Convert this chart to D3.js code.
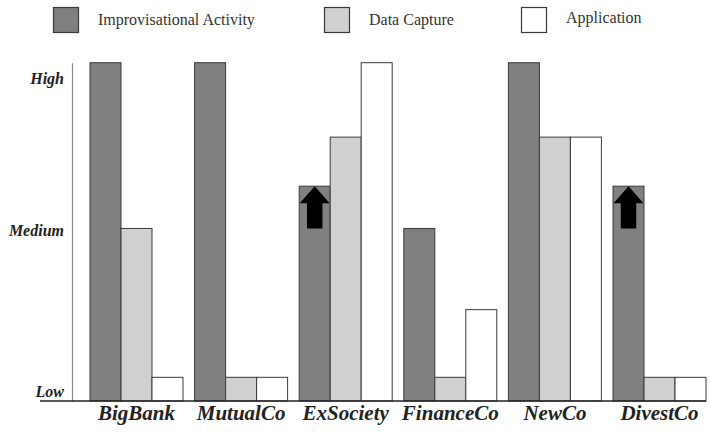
<!DOCTYPE html>
<html>
<head>
<meta charset="utf-8">
<script src="https://cdn.jsdelivr.net/npm/d3@7"></script>
<style>
	html, body { margin: 0; padding: 0; background: #fff; }
	svg { display: block; }
</style>
</head>
<body>
<div id="chart"></div>
<script>
'use strict';

// values, 0 = baseline, 10 = top of the tallest bars
var categories = ['BigBank', 'MutualCo', 'ExSociety', 'FinanceCo', 'NewCo', 'DivestCo'];
var improvisation = [10, 10, 6.35, 5.1, 10, 6.35];
var dataCapture = [5.1, 0.7, 7.8, 0.7, 7.8, 0.7];
var application = [0.7, 0.7, 10, 2.7, 7.8, 0.7];
// arrows on the improvisation bar: start level (medium) up to the bar top
var arrowFrom = [null, null, 5.1, null, null, 5.1];

var seriesNames = ['Improvisational Activity', 'Data Capture', 'Application'];
var tickValues = [0.27, 5.05, 9.55];
var tickLabels = ['Low', 'Medium', 'High'];

var colors = ['#808080', '#d0d0d0', '#ffffff'];
var legendX = [53, 324, 521];

var width = 711;
var height = 432;

var svg = d3.select('#chart').append('svg')
	.attr('width', width)
	.attr('height', height);

svg.append('rect')
	.attr('width', width)
	.attr('height', height)
	.attr('fill', '#fff');

var x = d3.scaleBand()
	.domain(categories)
	.range([84.2, 711.8])
	.paddingInner(0.111)
	.paddingOuter(0.0555);

var xSub = d3.scaleBand()
	.domain(d3.range(seriesNames.length))
	.range([0, x.bandwidth()]);

var y = d3.scaleLinear()
	.domain([0, 10])
	.range([401, 62.7]);

// y axis: plain grey line with the three level labels
var yAxis = d3.axisLeft(y)
	.tickValues(tickValues)
	.tickFormat(function(d, i){ return tickLabels[i]; })
	.tickSize(0)
	.tickSizeOuter(0)
	.tickPadding(8);

var gy = svg.append('g')
	.attr('class', 'axis y')
	.attr('transform', 'translate(72,0)')
	.call(yAxis);

gy.select('.domain').attr('stroke', '#8a8a8a').attr('stroke-width', 1.2);
gy.selectAll('text')
	.attr('font-family', '"Liberation Serif", "Times New Roman", serif')
	.attr('font-size', 16)
	.attr('font-weight', 'bold')
	.attr('font-style', 'italic')
	.attr('fill', '#222');

// bars
var rows = categories.map(function(c, i){
	return {cat: c, values: [improvisation[i], dataCapture[i], application[i]], arrow: arrowFrom[i]};
});

var group = svg.append('g').attr('class', 'bars')
	.selectAll('g.group')
	.data(rows)
	.enter()
	.append('g')
		.attr('class', 'group')
		.attr('transform', function(d){ return 'translate(' + x(d.cat) + ',0)'; });

group.selectAll('rect.bar')
	.data(function(d){ return d.values; })
	.enter()
	.append('rect')
	.attr('class', 'bar')
	.attr('x', function(d, i){ return xSub(i); })
	.attr('y', function(d){ return y(d); })
	.attr('width', xSub.bandwidth())
	.attr('height', function(d){ return y(0) - y(d); })
	.attr('fill', function(d, i){ return colors[i]; })
	.attr('stroke', '#3a3a3a')
	.attr('stroke-width', 1);

// up arrows
group.filter(function(d){ return d.arrow !== null; })
	.append('path')
	.attr('fill', '#000')
	.attr('d', function(d){
		var w = xSub.bandwidth();
		var x0 = xSub(0) + 0.5;
		var x1 = x0 + w - 1;
		var cx = x0 + (w - 1) / 2;
		var half = w * 0.25;
		var tip = y(d.values[0]);
		var base = tip + 17;
		var bottom = y(d.arrow);
		return 'M' + cx + ',' + tip +
			'L' + x1 + ',' + base +
			'L' + (cx + half) + ',' + base +
			'L' + (cx + half) + ',' + bottom +
			'L' + (cx - half) + ',' + bottom +
			'L' + (cx - half) + ',' + base +
			'L' + x0 + ',' + base + 'Z';
	});

// baseline
svg.append('line')
	.attr('x1', 40)
	.attr('x2', 706)
	.attr('y1', y(0))
	.attr('y2', y(0))
	.attr('stroke', '#222')
	.attr('stroke-width', 1.5);

// category labels
svg.append('g').attr('class', 'axis x')
	.selectAll('text')
	.data(categories)
	.enter()
	.append('text')
	.attr('x', function(d){ return x(d) + x.bandwidth() / 2; })
	.attr('y', 420)
	.attr('text-anchor', 'middle')
	.attr('font-family', '"Liberation Serif", "Times New Roman", serif')
	.attr('font-size', 21)
	.attr('font-weight', 'bold')
	.attr('font-style', 'italic')
	.attr('fill', '#222')
	.text(function(d){ return d; });

// legend
var legend = svg.append('g').attr('class', 'legend')
	.selectAll('g')
	.data(seriesNames)
	.enter()
	.append('g')
		.attr('transform', function(d, i){ return 'translate(' + legendX[i] + ',7)'; });

legend.append('rect')
	.attr('x', 0.5)
	.attr('y', 0.5)
	.attr('width', 25)
	.attr('height', 25)
	.attr('fill', function(d, i){ return colors[i]; })
	.attr('stroke', '#3a3a3a')
	.attr('stroke-width', 1.2);

legend.append('text')
	.attr('x', 45)
	.attr('y', function(d, i){ return i === 2 ? 16 : 18; })
	.attr('font-family', '"Liberation Serif", "Times New Roman", serif')
	.attr('font-size', 16)
	.attr('fill', '#333')
	.text(function(d){ return d; });
</script>
</body>
</html>
